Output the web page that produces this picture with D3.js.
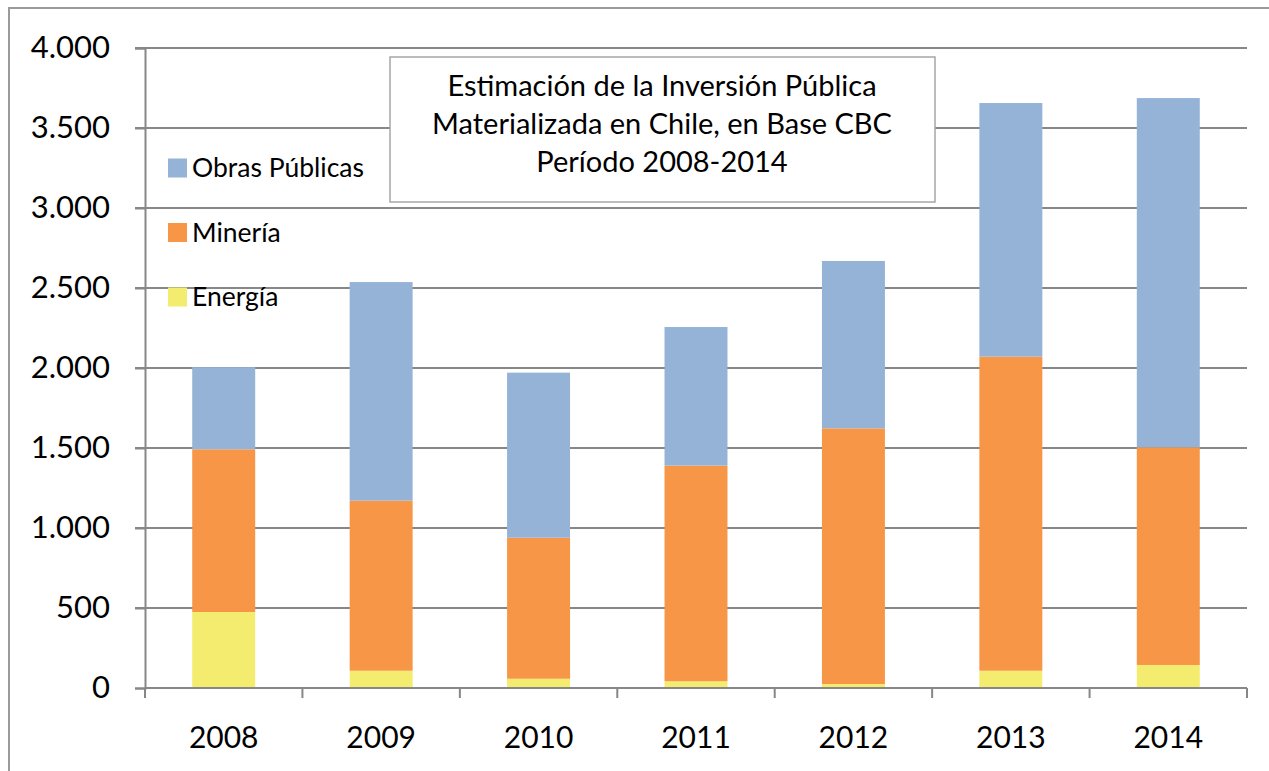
<!DOCTYPE html>
<html>
<head>
<meta charset="utf-8">
<script src="https://cdn.jsdelivr.net/npm/d3@7"></script>
<style>
  body { margin: 0; background: #fff; }
  svg { display: block; font-family: Lato, "Open Sans", sans-serif; }
</style>
</head>
<body>
<svg></svg>
<script>
let years = ['2008', '2009', '2010', '2011', '2012', '2013', '2014']
let energia = [475, 108, 58, 42, 25, 108, 144]
let mineria = [1017, 1063, 881, 1348, 1598, 1963, 1360]
let obras = [513, 1366, 1032, 866, 1046, 1585, 2183]
let yTicks = [0, 500, 1000, 1500, 2000, 2500, 3000, 3500, 4000]
let seriesNames = ['Energía', 'Minería', 'Obras Públicas']
let colors = ['#F4EC6F', '#F79646', '#95B3D7']
let titleLines = ['Estimación de la Inversión Pública', 'Materializada en Chile, en Base CBC', 'Período 2008-2014']

let width = 1269
let height = 771
let plotLeft = 145
let plotRight = 1247
let plotTop = 48
let plotBottom = 688

let svg = d3.select('svg').attr('width', width).attr('height', height)

// outer frame
svg.append('rect')
   .attr('x', 9).attr('y', 8)
   .attr('width', 1300).attr('height', 800)
   .attr('fill', 'none').attr('stroke', '#9a9a9a').attr('stroke-width', 2)

let table = years.map((y, i) => ({ year: y, 'Energía': energia[i], 'Minería': mineria[i], 'Obras Públicas': obras[i] }))
let stacked = d3.stack().keys(seriesNames)(table)

let xScale = d3.scaleBand().domain(years).range([plotLeft, plotRight]).paddingInner(0.6).paddingOuter(0.3)
let yScale = d3.scaleLinear().domain([0, 4000]).range([plotBottom, plotTop])

// gridlines
svg.append('g')
   .selectAll('line')
   .data(yTicks.filter(d => d > 0))
   .enter()
   .append('line')
   .attr('x1', plotLeft - 10).attr('x2', plotRight)
   .attr('y1', d => yScale(d)).attr('y2', d => yScale(d))
   .attr('stroke', '#878787').attr('stroke-width', 2)

// bars
svg.append('g')
   .selectAll('g')
   .data(stacked)
   .enter()
   .append('g')
   .attr('fill', (d, i) => colors[i])
   .selectAll('rect')
   .data(d => d)
   .enter()
   .append('rect')
   .attr('x', d => xScale(d.data.year))
   .attr('width', xScale.bandwidth())
   .attr('y', d => yScale(d[1]))
   .attr('height', d => yScale(d[0]) - yScale(d[1]))

// y axis
let yAxis = d3.axisLeft(yScale)
              .tickValues(yTicks)
              .tickSize(10)
              .tickPadding(25)
              .tickFormat(d => d3.format(',')(d).replace(/,/g, '.'))
let yg = svg.append('g').attr('transform', 'translate(' + plotLeft + ',0)').call(yAxis)
yg.select('.domain').attr('stroke', '#878787').attr('stroke-width', 2)
yg.selectAll('.tick line').attr('stroke', '#878787').attr('stroke-width', 2)
yg.selectAll('.tick text').attr('font-size', 31).attr('fill', '#000').attr('font-family', 'Lato')

// x axis with ticks between categories
let xg = svg.append('g').attr('transform', 'translate(0,' + plotBottom + ')')
xg.append('line')
  .attr('x1', plotLeft).attr('x2', plotRight)
  .attr('stroke', '#878787').attr('stroke-width', 2)
xg.selectAll('.sep')
  .data(d3.range(years.length + 1))
  .enter()
  .append('line')
  .attr('x1', i => plotLeft + i * (plotRight - plotLeft) / years.length)
  .attr('x2', i => plotLeft + i * (plotRight - plotLeft) / years.length)
  .attr('y1', 0).attr('y2', 10)
  .attr('stroke', '#878787').attr('stroke-width', 2)
xg.selectAll('text')
  .data(years)
  .enter()
  .append('text')
  .attr('x', d => xScale(d) + xScale.bandwidth() / 2)
  .attr('y', 60)
  .attr('text-anchor', 'middle')
  .attr('font-size', 30)
  .attr('fill', '#000')
  .text(d => d)

// legend
let legendOrder = ['Obras Públicas', 'Minería', 'Energía']
let legend = svg.append('g')
legendOrder.forEach((name, i) => {
    let cy = 168 + i * 64.5
    legend.append('rect')
          .attr('x', 168).attr('y', cy - 9.5)
          .attr('width', 19).attr('height', 19)
          .attr('fill', colors[seriesNames.indexOf(name)])
    legend.append('text')
          .attr('x', 192).attr('y', cy + 9)
          .attr('font-size', 26.5)
          .attr('fill', '#000')
          .text(name)
})

// title box
svg.append('rect')
   .attr('x', 390).attr('y', 57)
   .attr('width', 545).attr('height', 145)
   .attr('fill', '#fff').attr('stroke', '#a6a6a6').attr('stroke-width', 1.5)
svg.append('g')
   .selectAll('text')
   .data(titleLines)
   .enter()
   .append('text')
   .attr('x', 662)
   .attr('y', (d, i) => 96 + i * 38)
   .attr('text-anchor', 'middle')
   .attr('font-size', 29)
   .attr('fill', '#000')
   .text(d => d)
</script>
</body>
</html>
